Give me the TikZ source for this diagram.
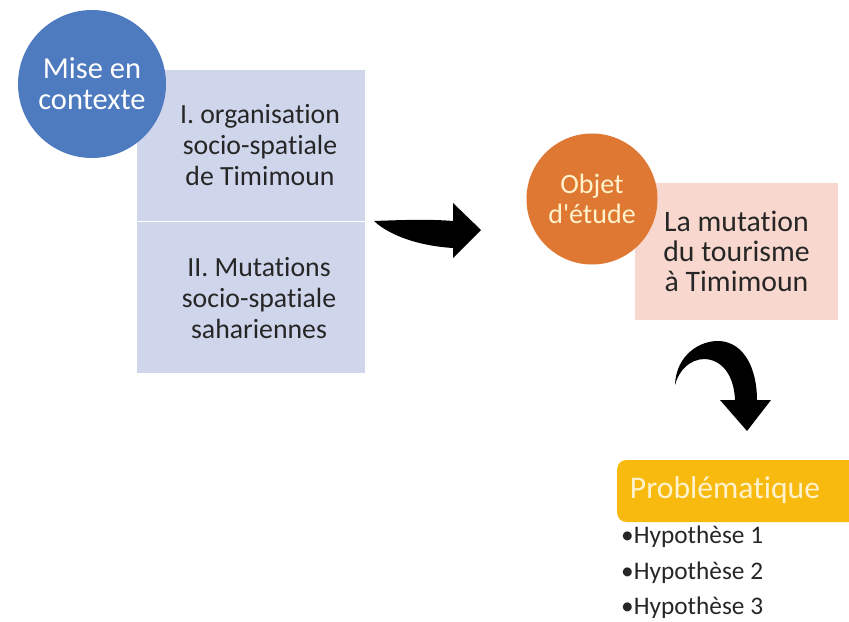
\documentclass[tikz,border=0pt]{standalone}
\usepackage{fontspec}
\setmainfont{Carlito}[Ligatures={TeXOff,CommonOff}]
\usetikzlibrary{shapes.geometric}
\definecolor{ctxblue}{RGB}{78,122,192}
\definecolor{lavender}{RGB}{207,213,234}
\definecolor{objorange}{RGB}{222,120,50}
\definecolor{objpink}{RGB}{248,216,206}
\definecolor{probgold}{RGB}{248,186,14}
\definecolor{cream}{RGB}{255,242,204}
\definecolor{txtgrey}{RGB}{38,38,38}
\tikzset{lavbox/.style={draw=none, fill=lavender, minimum width=228*0.03cm, minimum height=150*0.03cm, inner sep=0mm},
  boxtext/.style={draw=none, fill=none, align=center, text=txtgrey, font=\fontsize{23.7}{26.5}\selectfont},
  hypo/.style={anchor=west, inner sep=0mm, text=txtgrey, font=\fontsize{21.6}{24}\selectfont},
  bigarrow/.style={fill=black, draw=none}}

\begin{document}
\begin{tikzpicture}[x=0.03cm, y=-0.03cm]
  \useasboundingbox (0,0) rectangle (849,621);
  \clip (0,0) rectangle (849,621);

  % contexte
  \node (b1) [lavbox] at (251,145.5) {};
  \node (b2) [lavbox, minimum height=151*0.03cm] at (251,297.5) {};
  \node (t1) [boxtext] at (260,145) {I. organisation\\socio-spatiale\\de Timimoun};
  \node (t2) [boxtext] at (259,298) {II. Mutations\\socio-spatiale\\sahariennes};
  \node (ctx) [circle, fill=ctxblue, minimum size=148*0.03cm,
    text=white, align=center, inner sep=0mm, font=\fontsize{26}{26.5}\selectfont] at (92,84) {Mise en\\contexte};

  % objet
  \node (mut) [draw=none, fill=objpink, minimum width=203*0.03cm, minimum height=137*0.03cm,
    inner sep=0mm, align=center, text=txtgrey, font=\fontsize{25.4}{25.6}\selectfont] at (736.5,251.5) {La mutation\\du tourisme\\à Timimoun};
  \node (obj) [circle, fill=objorange, minimum size=131*0.03cm,
    text=cream, align=center, inner sep=0mm, font=\fontsize{23.9}{25}\selectfont] at (592,199) {Objet\\d'étude};

  % problematique
  \node (prob) [fill=probgold, rounded corners=9*0.03cm, minimum width=250*0.03cm, minimum height=62*0.03cm,
    anchor=west, inner sep=0mm] at (617,491) {};
  \node (pt) [text=cream, font=\fontsize{27}{30}\selectfont] at (725,490) {Problématique};
  \node (h1) [hypo] at (621,537) {•Hypothèse 1};
  \node (h2) [hypo] at (621,573) {•Hypothèse 2};
  \node (h3) [hypo] at (621,608) {•Hypothèse 3};

  % arrows
  \fill[bigarrow] (374,221) .. controls (400,220) and (430,219) .. (453,221) -- (453,203) -- (481,230)
    -- (453,258) -- (453,248) .. controls (420,246) and (390,236) .. (374,221) -- cycle;
  \fill[bigarrow] (675,385) .. controls (676,355) and (700,340) .. (720,341) .. controls (745,343) and (757,370) .. (757,400)
    -- (771,400) -- (747,431) -- (720,400) -- (735,400) .. controls (734,375) and (722,360) .. (705,359)
    .. controls (690,359) and (679,370) .. (675,385) -- cycle;
\end{tikzpicture}
\end{document}
